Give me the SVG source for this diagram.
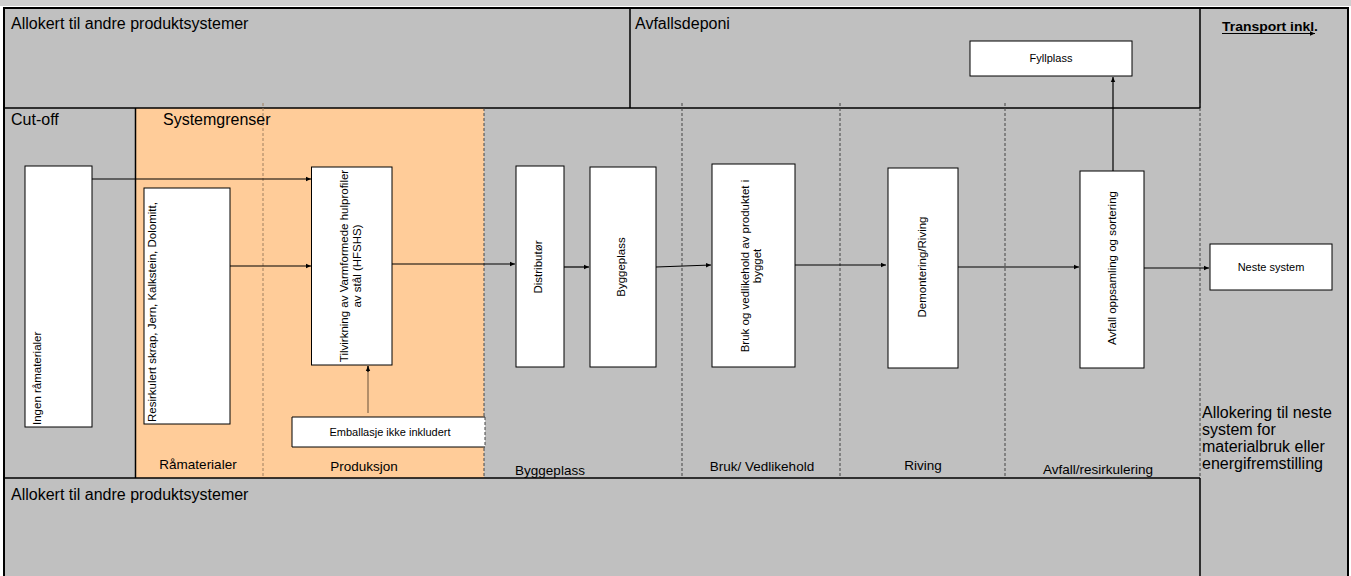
<svg xmlns="http://www.w3.org/2000/svg" width="1351" height="576" viewBox="0 0 1351 576">
<defs>
<marker id="ah" markerWidth="6" markerHeight="6" refX="5" refY="3" orient="auto" markerUnits="userSpaceOnUse"><path d="M0,0.8 L5,3 L0,5.2 z" fill="#000"/></marker>
<style>
.t{font-family:"Liberation Sans",Arial,sans-serif;fill:#000}
.big{font-size:16px}
.lab{font-size:13.5px}
.sm{font-size:11px}
.rot{font-size:11.5px}
.box{fill:#fff;stroke:#000;stroke-width:1}
.ln{stroke:#000;stroke-width:1.5;fill:none}
.dash{stroke:#444;stroke-width:1;stroke-dasharray:3,2;fill:none}
.dashb{stroke:#a08060;stroke-width:1;stroke-dasharray:3,2;fill:none}
.conn{stroke:#000;stroke-width:1.2;fill:none;marker-end:url(#ah)}
</style>
</defs>
<rect x="0" y="0" width="1351" height="576" fill="#fff"/>
<rect x="0" y="0" width="1351" height="6" fill="#cfcfcf"/>
<g id="regions">
<rect x="4" y="8" width="1344" height="570" fill="#c0c0c0" stroke="#000" stroke-width="2"/>
<rect x="135.5" y="108" width="348.5" height="370" fill="#ffcc99"/>
<line class="ln" x1="4" y1="108" x2="1200" y2="108"/>
<line class="ln" x1="630" y1="8" x2="630" y2="108"/>
<line class="ln" x1="135.5" y1="108" x2="135.5" y2="478"/>
<line class="ln" x1="1200" y1="8" x2="1200" y2="108"/>
<line class="dash" x1="1200" y1="103" x2="1200" y2="478"/>
<line class="dashb" x1="263" y1="103" x2="263" y2="478"/>
<line class="dash" x1="484" y1="108" x2="484" y2="478"/>
<line class="dash" x1="682" y1="103" x2="682" y2="478"/>
<line class="dash" x1="840" y1="103" x2="840" y2="478"/>
<line class="dash" x1="1005" y1="103" x2="1005" y2="478"/>
<text class="t big" x="11" y="29">Allokert til andre produktsystemer</text>
<text class="t big" x="635" y="29">Avfallsdeponi</text>
<text class="t big" x="11" y="125">Cut-off</text>
<text class="t big" x="163" y="125">Systemgrenser</text>
<text class="t" x="1222" y="31" font-size="13.5" font-weight="bold" textLength="96" lengthAdjust="spacingAndGlyphs">Transport inkl.</text>
<text class="t big"><tspan x="1202" y="418">Allokering til neste</tspan><tspan x="1202" y="435">system for</tspan><tspan x="1202" y="452">materialbruk eller</tspan><tspan x="1202" y="469">energifremstilling</tspan></text>
<text class="t lab" x="198" y="469" text-anchor="middle">Råmaterialer</text>
<text class="t lab" x="364" y="471" text-anchor="middle">Produksjon</text>
<text class="t lab" x="550" y="475" text-anchor="middle">Byggeplass</text>
<text class="t lab" x="762" y="471" text-anchor="middle">Bruk/ Vedlikehold</text>
<text class="t lab" x="923" y="470" text-anchor="middle">Riving</text>
<text class="t lab" x="1098" y="474" text-anchor="middle">Avfall/resirkulering</text>
<rect x="5" y="478" width="1195" height="98" fill="#c0c0c0"/>
<line class="ln" x1="4" y1="478" x2="1200" y2="478"/>
<line class="ln" x1="1200" y1="478" x2="1200" y2="576"/>
<text class="t big" x="11" y="500">Allokert til andre produktsystemer</text>
</g>
<g id="connectors">
<line class="conn" x1="1222" y1="33.5" x2="1315" y2="33.5"/>
<line class="conn" x1="92" y1="179" x2="311" y2="179"/>
<line class="conn" x1="230" y1="266" x2="311" y2="266"/>
<line class="conn" x1="392" y1="264" x2="515" y2="264"/>
<line class="conn" x1="561" y1="267" x2="589" y2="267"/>
<line class="conn" x1="656" y1="267" x2="711" y2="265"/>
<line class="conn" x1="795" y1="265" x2="886" y2="265"/>
<line class="conn" x1="954" y1="267" x2="1079" y2="267"/>
<line class="conn" x1="1144" y1="268" x2="1209" y2="268"/>
<line class="conn" x1="1113" y1="171" x2="1113" y2="77"/>
<line x1="368" y1="413" x2="368" y2="366" stroke="#9a7a5a" stroke-width="1.5"/>
<line class="conn" x1="368" y1="372" x2="368" y2="366"/>
</g>
<g id="ingen">
<rect class="box" x="25" y="166" width="67" height="261"/>
<text class="t rot" transform="translate(41,425) rotate(-90)">Ingen råmaterialer</text>
</g>
<g id="resirkulert">
<rect class="box" x="144" y="188" width="86" height="236"/>
<text class="t rot" transform="translate(156,422) rotate(-90)">Resirkulert skrap, Jern, Kalkstein, Dolomitt,</text>
</g>
<g id="tilvirkning">
<rect class="box" x="311.5" y="167" width="80.5" height="198"/>
<text class="t rot" text-anchor="middle" transform="translate(348,266) rotate(-90)">Tilvirkning av Varmformede hulprofiler</text>
<text class="t rot" text-anchor="middle" transform="translate(361,266) rotate(-90)">av stål (HFSHS)</text>
</g>
<g id="emballasje">
<rect x="292" y="417" width="193" height="30" fill="#fff"/>
<path d="M485,417 H292 V447 H485" fill="none" stroke="#000" stroke-width="1"/>
<line class="dash" x1="485" y1="417" x2="485" y2="447"/>
<text class="t sm" x="390" y="436" text-anchor="middle">Emballasje ikke inkludert</text>
</g>
<g id="distributor">
<rect class="box" x="516" y="166" width="48" height="201"/>
<text class="t rot" text-anchor="middle" transform="translate(541.5,267) rotate(-90)">Distributør</text>
</g>
<g id="byggeplass">
<rect class="box" x="590" y="167" width="66" height="200"/>
<text class="t rot" text-anchor="middle" transform="translate(625,267) rotate(-90)">Byggeplass</text>
</g>
<g id="bruk">
<rect class="box" x="712" y="164" width="83" height="203"/>
<text class="t rot" text-anchor="middle" transform="translate(749,266) rotate(-90)">Bruk og vedlikehold av produktet i</text>
<text class="t rot" text-anchor="middle" transform="translate(761,266) rotate(-90)">bygget</text>
</g>
<g id="demontering">
<rect class="box" x="888" y="168" width="70" height="200"/>
<text class="t rot" text-anchor="middle" transform="translate(926,267) rotate(-90)">Demontering/Riving</text>
</g>
<g id="avfall">
<rect class="box" x="1080" y="171" width="64" height="197"/>
<text class="t rot" text-anchor="middle" transform="translate(1116,268) rotate(-90)">Avfall oppsamling og sortering</text>
</g>
<g id="fyllplass">
<rect class="box" x="970" y="41" width="162" height="35"/>
<text class="t sm" x="1051" y="62" text-anchor="middle">Fyllplass</text>
</g>
<g id="neste">
<rect class="box" x="1210" y="244" width="122" height="46"/>
<text class="t sm" x="1271" y="271" text-anchor="middle">Neste system</text>
</g>
</svg>
